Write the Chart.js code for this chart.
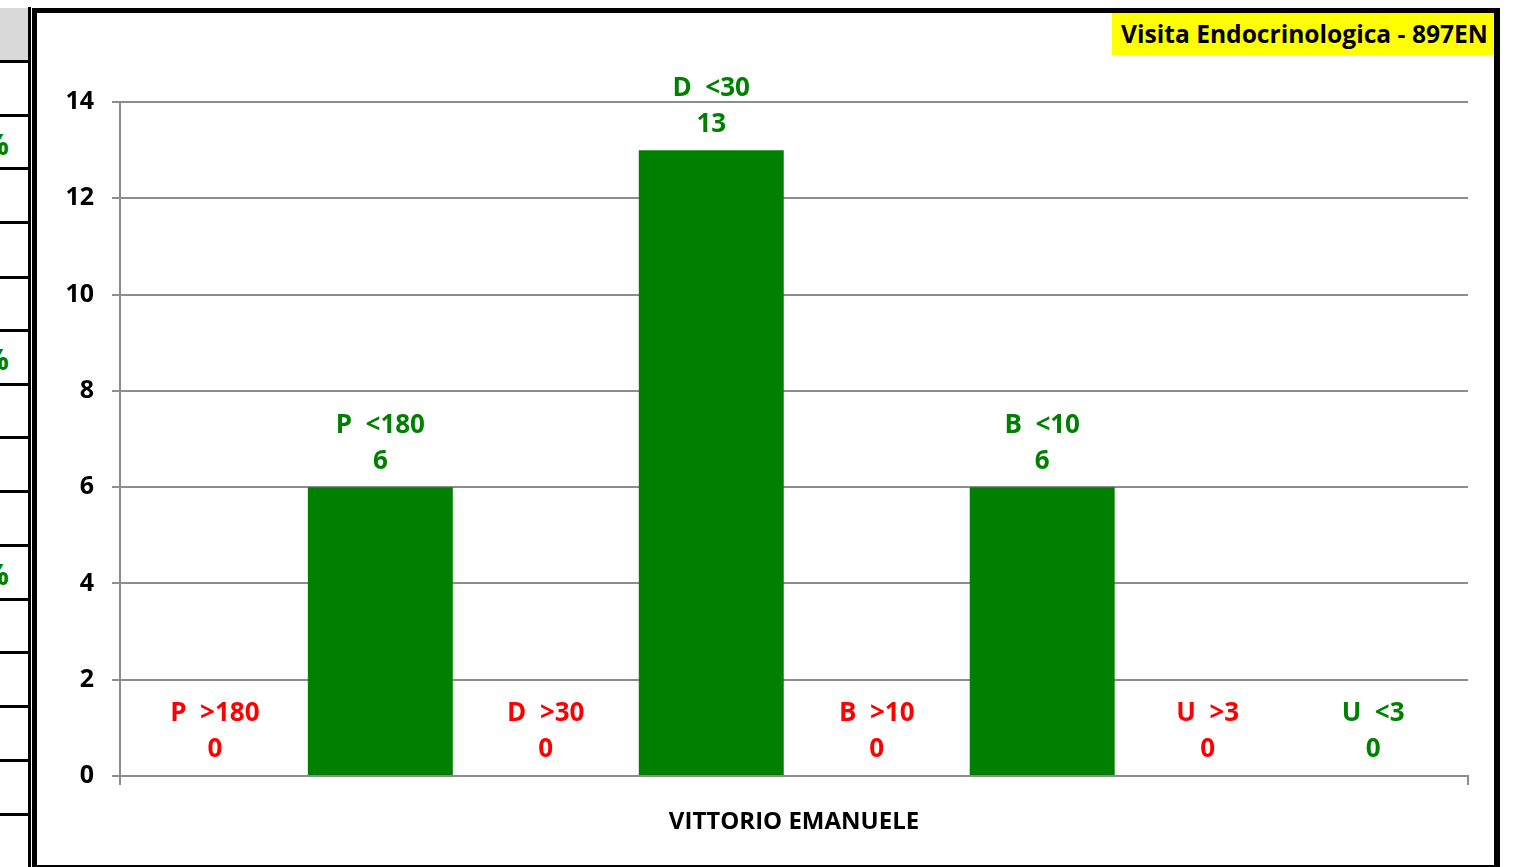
<!DOCTYPE html>
<html>
<head>
<meta charset="utf-8">
<script src="https://cdn.jsdelivr.net/npm/chart.js@4"></script>
<style>
  html, body { margin: 0; padding: 0; background: #fff; width: 1523px; height: 867px; overflow: hidden; font-family: "Open Sans", sans-serif; }
  #tabella { position: absolute; left: 0; top: 0; width: 31px; height: 867px; overflow: hidden; }
  #tabella .linea { position: absolute; left: 0; width: 28px; height: 3px; background: #000; }
  #tabella .vert { position: absolute; left: 28px; top: 7px; width: 3px; height: 860px; background: #000; }
  #tabella .testa { position: absolute; left: 0; top: 8px; width: 28px; height: 52px; background: #d9d9d9; }
  #tabella .perc { position: absolute; right: 22px; color: #008000; font-weight: bold; font-size: 29px; line-height: 54px; white-space: nowrap; }
  #cornice { position: absolute; left: 32px; top: 8px; width: 1468px; height: 859px; box-sizing: border-box;
             border-left: 5px solid #000; border-top: 5px solid #000; border-right: 6px solid #000; border-bottom: 2px solid #000; }
  #titolo { position: absolute; left: 1112px; top: 13px; width: 382px; height: 42px; background: #ffff00;
            font: bold 24.6px "Open Sans", sans-serif; color: #000; line-height: 41px; padding-left: 9px; box-sizing: border-box; white-space: nowrap; overflow: hidden; z-index: 2; }
  #contenitore { position: absolute; left: 37px; top: 13px; width: 1457px; height: 852px; }
</style>
</head>
<body>
<div id="tabella"><div class="testa"></div><div class="vert"></div></div>
<div id="cornice"></div>
<div id="contenitore"><canvas id="grafico"></canvas></div>
<div id="titolo">Visita Endocrinologica - 897EN</div>
<script>
// dati
const categorie = ['VITTORIO EMANUELE'];
const nomiSerie = ['P  >180', 'P  <180', 'D  >30', 'D  <30', 'B  >10', 'B  <10', 'U  >3', 'U  <3'];
const valoriSerie = [0, 6, 0, 13, 0, 6, 0, 0];
const coloriEtichette = ['#ff0000', '#008000', '#ff0000', '#008000', '#ff0000', '#008000', '#ff0000', '#008000'];
const tickY = [0, 2, 4, 6, 8, 10, 12, 14];

// tabella a sinistra (tagliata dal bordo della pagina)
const tab = document.getElementById('tabella');
const lineeRighe = [60, 114, 167, 221, 276, 329, 383, 436, 490, 544, 598, 651, 705, 759, 813];
lineeRighe.forEach(y => {
    const l = document.createElement('div');
    l.className = 'linea';
    l.style.top = y + 'px';
    tab.appendChild(l);
});
// celle con la percentuale (si vede solo la coda del "%")
[1, 5, 9].forEach(i => {
    const s = document.createElement('span');
    s.className = 'perc';
    s.style.top = (lineeRighe[i] + 3) + 'px';
    s.textContent = '100%';
    tab.appendChild(s);
});

// etichette dati (nome + valore) sopra le barre
const etichettePlugin = {
    id: 'etichette',
    afterDatasetsDraw(chart) {
        const ctx = chart.ctx;
        ctx.save();
        ctx.font = 'bold 26px "Open Sans"';
        ctx.textAlign = 'center';
        ctx.textBaseline = 'middle';
        chart.data.datasets.forEach((ds, i) => {
            const bar = chart.getDatasetMeta(i).data[0];
            ctx.fillStyle = coloriEtichette[i];
            ctx.fillText(nomiSerie[i], bar.x, bar.y - 62);
            ctx.fillText(String(valoriSerie[i]), bar.x, bar.y - 26);
        });
        ctx.restore();
    }
};

const grafico = new Chart(document.getElementById('grafico'), {
    type: 'bar',
    data: {
        labels: categorie,
        datasets: nomiSerie.map((nome, i) => ({
            label: nome,
            data: [valoriSerie[i]],
            backgroundColor: '#008000',
            categoryPercentage: 0.982,
            barPercentage: 0.876
        }))
    },
    options: {
        responsive: true,
        maintainAspectRatio: false,
        animation: false,
        layout: { padding: { top: 89, right: 26, left: 0, bottom: 0 } },
        plugins: {
            legend: { display: false },
            tooltip: { enabled: false }
        },
        scales: {
            x: {
                grid: { drawOnChartArea: false, color: '#8c8c8c', lineWidth: 2, tickLength: 9 },
                border: { color: '#8c8c8c', width: 2 },
                ticks: { color: '#000', padding: 23, font: { family: 'Open Sans', size: 24, weight: 'bold' } },
                afterFit: (s) => { s.height = 89; }
            },
            y: {
                min: 0,
                max: 14,
                afterBuildTicks: (s) => { s.ticks = tickY.map(v => ({ value: v })); },
                grid: { color: '#8c8c8c', lineWidth: 2, tickLength: 8 },
                border: { color: '#8c8c8c', width: 2 },
                ticks: { color: '#000', padding: 18, font: { family: 'Open Sans', size: 25, weight: 'bold' } },
                afterFit: (s) => { s.width = 83; }
            }
        }
    },
    plugins: [etichettePlugin]
});
</script>
</body>
</html>
